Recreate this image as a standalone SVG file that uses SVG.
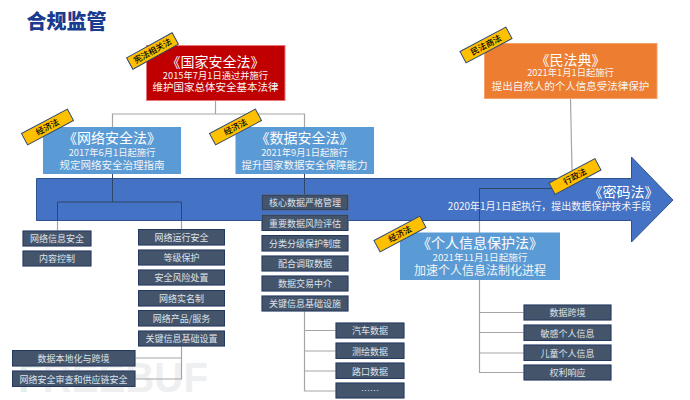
<svg xmlns="http://www.w3.org/2000/svg" width="690" height="400" viewBox="0 0 690 400">
<style>
text{font-family:"Noto Sans CJK SC","Liberation Sans",sans-serif;text-anchor:middle}
.t1{font-size:14px;fill:#fff}
.t2{font-size:9.3px;fill:#f4f4f4}
.t3{font-size:10.5px;fill:#f4f4f4}
.badge rect{fill:#ffc000;stroke:#2f4a75;stroke-width:1}
.badge text{font-size:8.4px;fill:#000;font-weight:500}
.n rect{fill:#44546a;stroke:#24395f;stroke-width:1;filter:drop-shadow(0 0 .7px #b9c5da)}
.n text{font-size:9px;fill:#dfe3ea}
.c path{fill:none;stroke:#a5a5a5;stroke-width:1.200}
.d path{fill:none;stroke:#2f4668;stroke-width:1}
</style>
<text x="66.500" y="29" style="font-size:20px;font-weight:900;fill:#1a3b8f">合规监管</text>
<g id="arrow"><path d="M36.500 178.500H631.500V157L673 200L631.500 242V220.500H36.500Z" fill="#4472c4" stroke="#2f528f" stroke-width="1"/></g>
<g id="watermark"><text x="18" y="392" style="font-family:'Liberation Sans',sans-serif;text-anchor:start;font-size:42px;font-weight:700;fill:#eeeff0" textLength="190" lengthAdjust="spacingAndGlyphs"><tspan fill="#e2f0ed">F</tspan>REEBUF</text></g>
<g id="connectors" class="c">
<path d="M215.500 100V114M112.500 127V114H304.500V127"/>
<path d="M570.500 98.500L572 170"/>
<path d="M304.500 311V391H336M304.500 330.500H336M304.500 351H336M304.500 371H336"/>
<path d="M479.500 221V372.500H524M479.500 312.500H524M479.500 332.500H524M479.500 353H524"/>
<path d="M181.500 346V379H135M181.500 358H135"/>
<path d="M57.500 221V231"/><path d="M181.500 221V229.500"/>
</g>
<g id="connectors-dark" class="d">
<path d="M112.500 174V202M57.500 220V202H181.500V220"/>
<path d="M304.500 174V195"/>
<path d="M552 188.500H479.500V221"/>
</g>
<g id="n1"><rect x="146.500" y="45.500" width="138.500" height="55" fill="#c00000" stroke="#e8767a"/><text class="t1" x="215.500" y="67">《国家安全法》</text><text class="t2" x="215.500" y="78.500">2015年7月1日通过并施行</text><text class="t3" x="215.500" y="91">维护国家总体安全基本法律</text></g>
<g id="n2"><rect x="484.500" y="43.500" width="172.500" height="55" fill="#ed7d31" stroke="#f6a36b"/><text class="t1" x="570.500" y="64.500">《民法典》</text><text class="t2" x="570.500" y="76">2021年1月1日起施行</text><text class="t3" x="570.500" y="89.500">提出自然人的个人信息受法律保护</text></g>
<g id="n3"><rect x="43" y="127" width="138" height="47" fill="#5b9bd5"/><text class="t1" x="112" y="142.500">《网络安全法》</text><text class="t2" x="112" y="156">2017年6月1日起施行</text><text class="t3" x="112" y="168.700">规定网络安全治理指南</text></g>
<g id="n4"><rect x="235.500" y="127" width="138.500" height="47" fill="#5b9bd5"/><text class="t1" x="304.500" y="142.500">《数据安全法》</text><text class="t2" x="304.500" y="156">2021年9月1日起施行</text><text class="t3" x="304.500" y="168.700">提升国家数据安全保障能力</text></g>
<g id="n5"><text class="t1" x="623.500" y="197">《密码法》</text><text x="549.500" y="210" style="font-size:10px;fill:#f4f4f4">2020年1月1日起执行，提出数据保护技术手段</text></g>
<g id="n6"><rect x="400" y="232.500" width="160" height="47.500" fill="#5b9bd5"/><text class="t1" x="480" y="247.500">《个人信息保护法》</text><text class="t2" x="480" y="261" style="font-size:9.600px">2021年11月1日起施行</text><text x="480" y="275.300" style="font-size:12px;fill:#f4f4f4">加速个人信息法制化进程</text></g>
<g id="badges">
<g id="b1" class="badge" transform="translate(152.500 51) rotate(-29)"><rect x="-26" y="-6.500" width="52" height="13"/><text y="3">宪法相关法</text></g>
<g id="b2" class="badge" transform="translate(47.500 127) rotate(-28)"><rect x="-26" y="-6.500" width="52" height="13"/><text y="3">经济法</text></g>
<g id="b3" class="badge" transform="translate(235.500 127) rotate(-28)"><rect x="-26" y="-6.500" width="52" height="13"/><text y="3">经济法</text></g>
<g id="b4" class="badge" transform="translate(486 45) rotate(-28)"><rect x="-26" y="-6.500" width="52" height="13"/><text y="3">民法商法</text></g>
<g id="b5" class="badge" transform="translate(575 176.500) rotate(-28)"><rect x="-26" y="-6.500" width="52" height="13"/><text y="3">行政法</text></g>
<g id="b6" class="badge" transform="translate(400 234) rotate(-28)"><rect x="-26" y="-6.500" width="52" height="13"/><text y="3">经济法</text></g>
</g>
<g class="n" id="a1"><rect x="23" y="231" width="68" height="15"/><text x="57" y="242">网络信息安全</text></g>
<g class="n" id="a2"><rect x="23" y="251" width="68" height="15"/><text x="57" y="262">内容控制</text></g>
<g class="n" id="c1"><rect x="138.500" y="229.500" width="86" height="15.500"/><text x="181.500" y="241">网络运行安全</text></g>
<g class="n" id="c2"><rect x="138.500" y="250" width="86" height="15"/><text x="181.500" y="261">等级保护</text></g>
<g class="n" id="c3"><rect x="138.500" y="270" width="86" height="15"/><text x="181.500" y="281">安全风险处置</text></g>
<g class="n" id="c4"><rect x="138.500" y="290.500" width="86" height="15.500"/><text x="181.500" y="302">网络实名制</text></g>
<g class="n" id="c5"><rect x="138.500" y="310.500" width="86" height="15.500"/><text x="181.500" y="322">网络产品/服务</text></g>
<g class="n" id="c6"><rect x="138.500" y="331" width="86" height="15"/><text x="181.500" y="342">关键信息基础设置</text></g>
<g class="n" id="e1"><rect x="12.500" y="350.500" width="122.500" height="15.500"/><text x="73.500" y="362">数据本地化与跨境</text></g>
<g class="n" id="e2"><rect x="12.500" y="371" width="122.500" height="15.500"/><text x="73.500" y="383">网络安全审查和供应链安全</text></g>
<g class="n" id="d1"><rect x="262" y="195" width="86" height="15"/><text x="305" y="206">核心数据严格管理</text></g>
<g class="n" id="d2"><rect x="262" y="215" width="86" height="15.500"/><text x="305" y="226.500">重要数据风险评估</text></g>
<g class="n" id="d3"><rect x="262" y="235.500" width="86" height="15.500"/><text x="305" y="247">分类分级保护制度</text></g>
<g class="n" id="d4"><rect x="262" y="256" width="86" height="15"/><text x="305" y="267">配合调取数据</text></g>
<g class="n" id="d5"><rect x="262" y="276" width="86" height="15"/><text x="305" y="287">数据交易中介</text></g>
<g class="n" id="d6"><rect x="262" y="296" width="86" height="15"/><text x="305" y="307">关键信息基础设施</text></g>
<g class="n" id="f1"><rect x="336" y="323" width="68" height="15"/><text x="370" y="334">汽车数据</text></g>
<g class="n" id="f2"><rect x="336" y="343" width="68" height="15.500"/><text x="370" y="354.500">测绘数据</text></g>
<g class="n" id="f3"><rect x="336" y="363" width="68" height="15.500"/><text x="370" y="374.500">路口数据</text></g>
<g class="n" id="f4"><rect x="336" y="383" width="68" height="15"/><text x="370" y="394">……</text></g>
<g class="n" id="g1"><rect x="524" y="305" width="87" height="15"/><text x="567.500" y="316">数据跨境</text></g>
<g class="n" id="g2"><rect x="524" y="325" width="87" height="15.500"/><text x="567.500" y="336.500">敏感个人信息</text></g>
<g class="n" id="g3"><rect x="524" y="345" width="87" height="15.500"/><text x="567.500" y="356.500">儿童个人信息</text></g>
<g class="n" id="g4"><rect x="524" y="365" width="87" height="15"/><text x="567.500" y="376">权利响应</text></g>
</svg>
